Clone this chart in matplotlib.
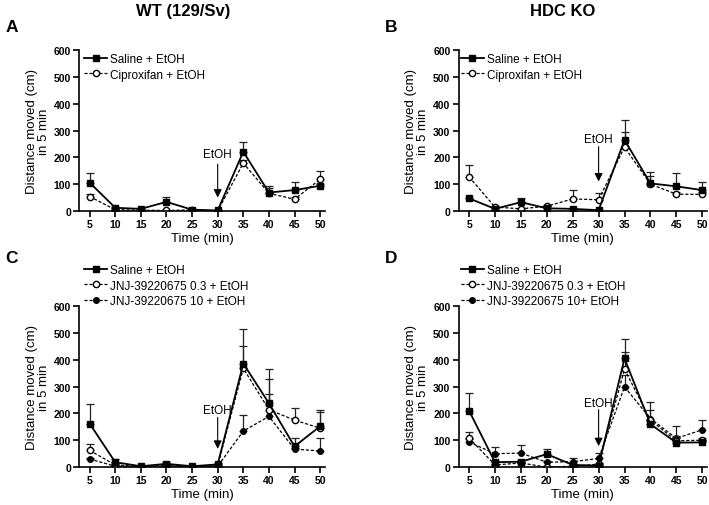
import numpy as np
import matplotlib
matplotlib.use('Agg')
import matplotlib.pyplot as plt

plt.rcParams['font.family'] = ['Liberation Sans', 'DejaVu Sans']

# time points (min)
time = [5, 10, 15, 20, 25, 30, 35, 40, 45, 50]

# panel A - WT
A_saline = [106, 12, 8, 34, 5, 2, 221, 69, 78, 94]
A_saline_err = [34, 4, 3, 18, 3, 2, 38, 25, 31, 8]
A_cipro = [54, 5, 3, 2, 4, 0, 179, 66, 44, 118]
A_cipro_err = [8, 3, 2, 2, 2, 1, 10, 20, 8, 30]

# panel B - HDC KO
B_saline = [47, 8, 33, 10, 8, 3, 265, 103, 92, 78]
B_saline_err = [3, 3, 17, 3, 3, 2, 75, 27, 48, 32]
B_cipro = [127, 15, 8, 18, 45, 42, 238, 100, 63, 62]
B_cipro_err = [43, 4, 4, 4, 35, 26, 55, 45, 8, 8]

# panel C - WT, JNJ
C_saline = [162, 18, 3, 12, 3, 10, 386, 238, 77, 152]
C_saline_err = [74, 12, 2, 8, 2, 5, 129, 127, 30, 59]
C_lo = [62, 8, 2, 8, 2, 5, 368, 214, 175, 145]
C_lo_err = [23, 4, 2, 4, 2, 3, 82, 116, 44, 61]
C_hi = [30, 3, 2, 3, 2, 3, 134, 189, 67, 60]
C_hi_err = [5, 2, 1, 2, 1, 2, 60, 83, 5, 47]

# panel D - HDC KO, JNJ
D_saline = [210, 18, 20, 48, 8, 5, 405, 160, 91, 92]
D_saline_err = [67, 5, 5, 20, 3, 3, 72, 10, 23, 6]
D_lo = [108, 8, 15, 0, 3, 11, 365, 175, 98, 100]
D_lo_err = [22, 4, 4, 2, 2, 4, 65, 39, 10, 8]
D_hi = [93, 50, 52, 18, 20, 32, 299, 181, 107, 139]
D_hi_err = [10, 25, 31, 5, 15, 20, 45, 62, 45, 37]

# EtOH arrow: (text y, arrow start y, arrow tip y)
etoh_A = (212, 175, 50)
etoh_B = (268, 240, 110)
etoh_C = (212, 185, 68)
etoh_D = (238, 214, 78)

styles = {
    'saline': dict(ls='-', marker='s', mfc='black', mec='black', ms=4.5, lw=1.3),
    'lo': dict(ls='--', marker='o', mfc='white', mec='black', ms=4.5, lw=0.9, dashes=(2.5, 1.5)),
    'hi': dict(ls='--', marker='o', mfc='black', mec='black', ms=4, lw=0.9, dashes=(2.5, 1.5)),
}


def series(ax, y, err, key, label, z):
    st = styles[key]
    lo = np.zeros(len(err))
    ax.errorbar(time, y, yerr=[lo, err], fmt='none', ecolor='#222222',
                elinewidth=0.9, capsize=2.8, capthick=0.9, zorder=z)
    ax.plot(time, y, color='black', label=label, zorder=z + 0.5, **st)


def style_axes(ax, etoh):
    ax.set_xlim(3.0, 50.9)
    ax.set_ylim(0, 600)
    ax.set_xticks(time)
    ax.set_yticks([0, 100, 200, 300, 400, 500, 600])
    for s in ['top', 'right']:
        ax.spines[s].set_visible(False)
    for s in ['left', 'bottom']:
        ax.spines[s].set_linewidth(1.2)
    ax.tick_params(width=1.2, length=4, labelsize=7.5, pad=2)
    for lab in ax.get_xticklabels() + ax.get_yticklabels():
        lab.set_fontweight('bold')
    ax.set_xlabel('Time (min)', fontsize=9.5, labelpad=2)
    ax.set_ylabel('Distance moved (cm)\nin 5 min', fontsize=9.5, labelpad=3, linespacing=1.0)
    ty, y0, y1 = etoh
    ax.text(30, ty, 'EtOH', ha='center', va='center', fontsize=8.5)
    ax.annotate('', xy=(30, y1), xytext=(30, y0),
                arrowprops=dict(arrowstyle='-|>', color='black', lw=0.8,
                                mutation_scale=12, shrinkA=0, shrinkB=0))


fig = plt.figure(figsize=(7.09, 5.06), dpi=100)

axA = fig.add_axes([0.112, 0.581, 0.346, 0.318])
axB = fig.add_axes([0.647, 0.581, 0.350, 0.318])
axC = fig.add_axes([0.112, 0.075, 0.346, 0.318])
axD = fig.add_axes([0.647, 0.075, 0.350, 0.318])

series(axA, A_cipro, A_cipro_err, 'lo', 'Ciproxifan + EtOH', 2)
series(axA, A_saline, A_saline_err, 'saline', 'Saline + EtOH', 3)
series(axB, B_cipro, B_cipro_err, 'lo', 'Ciproxifan + EtOH', 2)
series(axB, B_saline, B_saline_err, 'saline', 'Saline + EtOH', 3)

series(axC, C_hi, C_hi_err, 'hi', 'JNJ-39220675 10 + EtOH', 1)
series(axC, C_lo, C_lo_err, 'lo', 'JNJ-39220675 0.3 + EtOH', 2)
series(axC, C_saline, C_saline_err, 'saline', 'Saline + EtOH', 3)
series(axD, D_hi, D_hi_err, 'hi', 'JNJ-39220675 10+ EtOH', 1)
series(axD, D_lo, D_lo_err, 'lo', 'JNJ-39220675 0.3 + EtOH', 2)
series(axD, D_saline, D_saline_err, 'saline', 'Saline + EtOH', 3)

for ax, et in [(axA, etoh_A), (axB, etoh_B), (axC, etoh_C), (axD, etoh_D)]:
    style_axes(ax, et)


def add_legend(ax, order, anchor):
    h, l = ax.get_legend_handles_labels()
    idx = [l.index(o) for o in order]
    ax.legend([h[i] for i in idx], [l[i] for i in idx], loc='upper left',
              bbox_to_anchor=anchor, frameon=False, fontsize=8.5,
              handlelength=1.9, handletextpad=0.25, labelspacing=0.28,
              borderaxespad=0, borderpad=0)


add_legend(axA, ['Saline + EtOH', 'Ciproxifan + EtOH'], (0.02, 0.98))
add_legend(axB, ['Saline + EtOH', 'Ciproxifan + EtOH'], (0.01, 0.98))
add_legend(axC, ['Saline + EtOH', 'JNJ-39220675 0.3 + EtOH', 'JNJ-39220675 10 + EtOH'], (0.02, 1.26))
add_legend(axD, ['Saline + EtOH', 'JNJ-39220675 0.3 + EtOH', 'JNJ-39220675 10+ EtOH'], (0.01, 1.26))

fig.text(0.258, 0.978, 'WT (129/Sv)', ha='center', va='center', fontsize=12, fontweight='bold')
fig.text(0.794, 0.978, 'HDC KO', ha='center', va='center', fontsize=12, fontweight='bold')
fig.text(0.008, 0.945, 'A', ha='left', va='center', fontsize=12.5, fontweight='bold')
fig.text(0.543, 0.945, 'B', ha='left', va='center', fontsize=12.5, fontweight='bold')
fig.text(0.008, 0.49, 'C', ha='left', va='center', fontsize=12.5, fontweight='bold')
fig.text(0.543, 0.49, 'D', ha='left', va='center', fontsize=12.5, fontweight='bold')

fig.savefig('out.png', dpi=100)
